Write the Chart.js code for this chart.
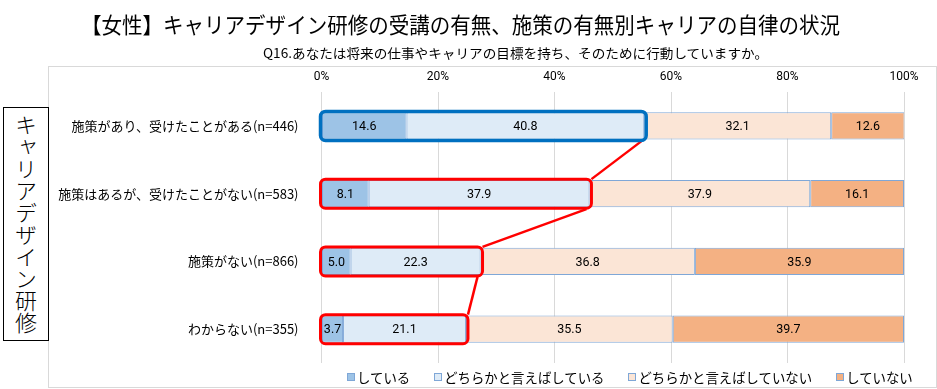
<!DOCTYPE html>
<html lang="ja">
<head>
<meta charset="utf-8">
<title>キャリアデザイン研修</title>
<script src="https://cdn.jsdelivr.net/npm/chart.js@4.4.1/dist/chart.umd.min.js"></script>
<style>
  html, body { margin: 0; padding: 0; background: #fff; }
  body {
    width: 937px; height: 389px; position: relative; overflow: hidden;
    font-family: "Noto Sans CJK JP", sans-serif; color: #000;
  }
  #frame {
    position: absolute; left: 48px; top: 66px; width: 889px; height: 322px;
    border: 1px solid #D9D9D9; box-sizing: border-box;
  }
  .fit { position: absolute; white-space: nowrap; transform-origin: 0 50%; }
  #title { font-size: 22px; line-height: 22px; top: 12px; }
  #subtitle { font-size: 13px; line-height: 13px; top: 46px; }
  #sideBox {
    position: absolute; left: 3px; top: 107px; width: 46px; height: 234px;
    border: 1.5px solid #000; box-sizing: border-box; background: #fff;
    display: flex; align-items: center; justify-content: center;
  }
  #sideBox span { writing-mode: vertical-rl; font-size: 22px; line-height: 22px; font-weight: 300; }
  #wrap { position: absolute; left: 0; top: 0; width: 937px; height: 389px; }
  #legend {
    position: absolute; left: 347px; top: 369px; display: flex;
    font-size: 13.4px; line-height: 16px;
  }
  #legend .item { display: flex; align-items: center; margin-right: 24px; }
  #legend .swatch { width: 8px; height: 8px; box-sizing: border-box; border: 1px solid #7FA7D7; margin-right: 2px; }
</style>
</head>
<body>
<div id="frame"></div>
<div id="wrap"><canvas id="chart" width="937" height="389"></canvas></div>
<div id="title" class="fit" data-left="81" data-width="759">【女性】キャリアデザイン研修の受講の有無、施策の有無別キャリアの自律の状況</div>
<div id="subtitle" class="fit" data-left="263" data-width="505">Q16.あなたは将来の仕事やキャリアの目標を持ち、そのために行動していますか。</div>
<div id="sideBox"><span>キャリアデザイン研修</span></div>
<div id="legend"></div>
<script>
// data
const categories = [
    '施策があり、受けたことがある(n=446)',
    '施策はあるが、受けたことがない(n=583)',
    '施策がない(n=866)',
    'わからない(n=355)'
];
const seriesNames = ['している', 'どちらかと言えばしている', 'どちらかと言えばしていない', 'していない'];
const doing = [14.6, 8.1, 5.0, 3.7];
const somewhatDoing = [40.8, 37.9, 22.3, 21.1];
const somewhatNot = [32.1, 37.9, 36.8, 35.5];
const notDoing = [12.6, 16.1, 35.9, 39.7];
const tickLabels = ['0%', '20%', '40%', '60%', '80%', '100%'];

const colors = ['#9DC3E6', '#DEEBF7', '#FBE5D6', '#F4B183'];
const barBorder = '#7FA7D7';

// squeeze title texts to the width they take in the picture
document.querySelectorAll('.fit').forEach(el => {
    el.style.left = el.dataset.left + 'px';
    const w = el.offsetWidth;
    el.style.transform = `scaleX(${el.dataset.width / w})`;
});

// legend
const legend = document.getElementById('legend');
legend.innerHTML = seriesNames.map((name, i) => `
    <div class="item"><span class="swatch" style="background:${colors[i]}"></span>${name}</div>
`).join('');

// value labels in the middle of each segment
const valueLabels = {
    id: 'valueLabels',
    afterDatasetsDraw(chart) {
        const ctx = chart.ctx;
        ctx.save();
        ctx.font = '12.5px Roboto, "Noto Sans", sans-serif';
        ctx.fillStyle = '#000';
        ctx.textAlign = 'center';
        ctx.textBaseline = 'middle';
        chart.data.datasets.forEach((ds, i) => {
            chart.getDatasetMeta(i).data.forEach((bar, j) => {
                ctx.fillText(ds.data[j].toFixed(1), (bar.x + bar.base) / 2, bar.y + 1);
            });
        });
        ctx.restore();
    }
};

// boxes round the "doing" part of each row, joined by lines
const highlight = {
    id: 'highlight',
    afterDatasetsDraw(chart) {
        const { ctx, scales: { x, y } } = chart;
        const boxes = categories.map((c, i) => {
            const cy = y.getPixelForValue(i);
            return {
                left: x.getPixelForValue(0) - 1,
                right: x.getPixelForValue(doing[i] + somewhatDoing[i]) + 2,
                top: cy - 14.5,
                bottom: cy + 14.5
            };
        });
        ctx.save();
        ctx.strokeStyle = '#FF0000';
        ctx.lineWidth = 2.5;
        for (let i = 0; i < boxes.length - 1; i++) {
            ctx.beginPath();
            ctx.moveTo(boxes[i].right - 5, boxes[i].bottom + 1);
            ctx.lineTo(boxes[i + 1].right, boxes[i + 1].top);
            ctx.stroke();
        }
        boxes.forEach((b, i) => {
            ctx.strokeStyle = i === 0 ? '#0070C0' : '#FF0000';
            ctx.lineWidth = i === 0 ? 3.5 : 3;
            ctx.beginPath();
            ctx.roundRect(b.left, b.top, b.right - b.left, b.bottom - b.top, 5);
            ctx.stroke();
        });
        ctx.restore();
    }
};

const series = [doing, somewhatDoing, somewhatNot, notDoing];

new Chart(document.getElementById('chart'), {
    type: 'bar',
    data: {
        labels: categories,
        datasets: series.map((values, i) => ({
            label: seriesNames[i],
            data: values,
            backgroundColor: colors[i],
            borderColor: barBorder,
            borderWidth: 1,
            borderSkipped: false,
            barPercentage: 0.4,
            categoryPercentage: 1
        }))
    },
    options: {
        indexAxis: 'y',
        responsive: false,
        animation: false,
        devicePixelRatio: 1,
        layout: { padding: { left: 0, right: 33, top: 60, bottom: 26 } },
        scales: {
            x: {
                stacked: true,
                position: 'top',
                min: 0,
                max: 100,
                ticks: {
                    stepSize: 20,
                    padding: 8,
                    color: '#000',
                    font: { family: 'Roboto, "Noto Sans", sans-serif', size: 12 },
                    callback: (v) => tickLabels[v / 20]
                },
                grid: { color: '#D9D9D9', drawTicks: false },
                border: { display: false },
                afterFit: (axis) => { axis.height = 32; }
            },
            y: {
                stacked: true,
                ticks: {
                    padding: 15,
                    color: '#000',
                    font: { family: '"Noto Sans CJK JP", sans-serif', size: 13 }
                },
                grid: { display: false },
                border: { display: false },
                afterFit: (axis) => { axis.width = 321.5; }
            }
        },
        plugins: {
            legend: { display: false },
            tooltip: { enabled: false }
        }
    },
    plugins: [valueLabels, highlight]
});
</script>
</body>
</html>
